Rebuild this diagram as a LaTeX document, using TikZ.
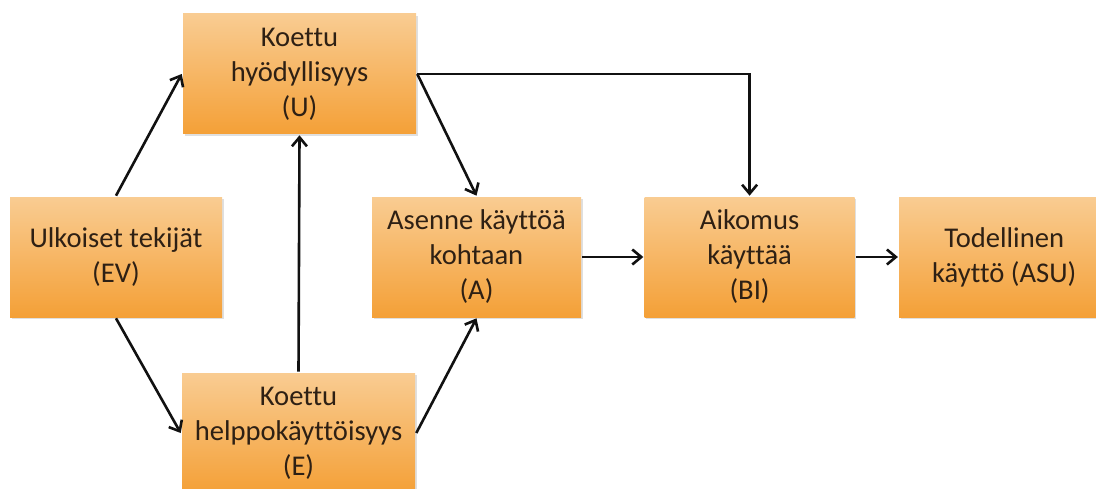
\documentclass[tikz,border=0pt]{standalone}
\usepackage{fontspec}
\setmainfont[Ligatures=NoCommon]{Carlito}
\usetikzlibrary{arrows.meta,positioning,shadows}
\definecolor{boxtop}{HTML}{F9CC92}
\definecolor{boxbottom}{HTML}{F4A037}
\definecolor{textdark}{HTML}{2E2014}
\definecolor{linegray}{HTML}{111111}

\begin{document}
\begin{tikzpicture}[
  x=1pt, y=1pt,
  line width=1.3pt,
  factor/.style={rectangle, top color=boxtop, bottom color=boxbottom, draw=none, minimum height=60pt, align=center, text=textdark, font=\fontsize{14.3}{17.5}\selectfont, drop shadow={opacity=0.25, shadow xshift=0.8pt, shadow yshift=-0.8pt}},
  flow/.style={-{Straight Barb[length=4.5pt,width=7.5pt]}, draw=linegray, line width=1.3pt}
]
  \useasboundingbox (0,0) rectangle (548,244);
  \node[factor, minimum width=106pt] (ev) at (58,115.5) {Ulkoiset tekijät\\(EV)};
  \node[factor, minimum width=116.5pt] (u) at (149.75,207) {Koettu\\hyödyllisyys\\(U)};
  \node[factor, minimum width=116.5pt] (e) at (149.25,27.5) {Koettu\\helppokäyttöisyys\\(E)};
  \node[factor, minimum width=104.5pt] (a) at (238.25,115.5) {Asenne käyttöä\\kohtaan\\(A)};
  \node[factor, minimum width=105pt, right=30.5pt of a] (bi) {Aikomus\\käyttää\\(BI)};
  \node[factor, minimum width=105pt, right=21pt of bi] (asu) {Todellinen\\käyttö (ASU)};
  \draw[flow] (ev.north) -- (u.west);
  \draw[flow] (ev.south) -- (e.west);
  \draw[flow] (e.north) -- (u.south);
  \draw[flow] (u.east) -- (a.north);
  \draw[flow] (e.east) -- (a.south);
  \draw[flow] (u.east) -| (bi.north);
  \draw[flow] (a) -- (bi);
  \draw[flow] (bi) -- (asu);
\end{tikzpicture}
\end{document}
